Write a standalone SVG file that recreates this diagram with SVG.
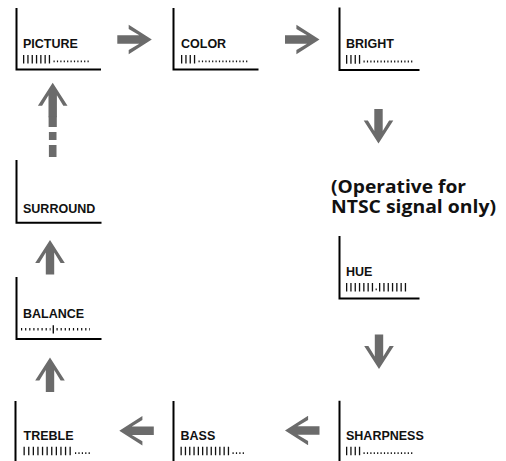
<svg xmlns="http://www.w3.org/2000/svg" xmlns:xlink="http://www.w3.org/1999/xlink" width="506" height="461" viewBox="0 0 506 461">
<style>
.frame{fill:none;stroke:#000;stroke-width:2}
.lbl{font-family:"Liberation Sans",Arial,sans-serif;font-weight:bold;font-size:12.5px;fill:#111}
.tick{stroke:#111;stroke-width:8.6;stroke-dasharray:1.3 3}
.dot{stroke:#111;stroke-width:1.8;stroke-dasharray:1.2 2.2}
.note{font-family:"Open Sans","Noto Sans",sans-serif;font-weight:bold;font-size:17.5px;fill:#111}
.arr{fill:#6b6b6b}
</style>
<defs>
<path id="arrow" d="M0,-4.2 H22 L11.4,-10.6 V-14.8 L34.5,0 L11.4,14.8 V10.6 L22,4.2 H0 Z"/>
</defs>
<rect width="506" height="461" fill="#fff"/>

<g id="picture">
<path class="frame" d="M16.5,8 V69.5 H101"/>
<text class="lbl" x="23" y="47.5">PICTURE</text>
<line class="tick" x1="23" y1="59.2" x2="50.1" y2="59.2"/>
<line class="dot" x1="53.5" y1="61.3" x2="89" y2="61.3"/>
</g>
<g id="color">
<path class="frame" d="M173.5,8 V69.5 H258.5"/>
<text class="lbl" x="181" y="47.5">COLOR</text>
<line class="tick" x1="181" y1="59.2" x2="195.2" y2="59.2"/>
<line class="dot" x1="198.5" y1="61.3" x2="248" y2="61.3"/>
</g>
<g id="bright">
<path class="frame" d="M339.5,7.5 V70 H419.5"/>
<text class="lbl" x="346" y="47.7">BRIGHT</text>
<line class="tick" x1="346" y1="59.4" x2="360.2" y2="59.4"/>
<line class="dot" x1="363.5" y1="61.5" x2="413.5" y2="61.5"/>
</g>
<g id="note">
<text class="note"><tspan x="331" y="192.7" textLength="135" lengthAdjust="spacingAndGlyphs">(Operative for</tspan><tspan x="331" y="212.7" textLength="165" lengthAdjust="spacingAndGlyphs">NTSC signal only)</tspan></text>
</g>
<g id="hue">
<path class="frame" d="M339.5,236 V298.5 H419.5"/>
<text class="lbl" x="346" y="275.7">HUE</text>
<line class="tick" x1="346" y1="287.2" x2="373.1" y2="287.2"/>
<line class="dot" x1="375.6" y1="289.3" x2="376.8" y2="289.3"/>
<line class="tick" x1="379" y1="287.2" x2="406.1" y2="287.2"/>
</g>
<g id="sharpness">
<path class="frame" d="M339.5,400.7 V462.5 H419.5"/>
<text class="lbl" x="346" y="439.5">SHARPNESS</text>
<line class="tick" x1="346" y1="451" x2="360.2" y2="451"/>
<line class="dot" x1="363.5" y1="453.1" x2="413.5" y2="453.1"/>
</g>
<g id="bass">
<path class="frame" d="M173.5,401 V462.5 H258.5"/>
<text class="lbl" x="180.5" y="440">BASS</text>
<line class="tick" x1="180.5" y1="451" x2="229.1" y2="451"/>
<line class="dot" x1="232.5" y1="453.1" x2="244" y2="453.1"/>
</g>
<g id="treble">
<path class="frame" d="M15.5,401 V462.5 H101"/>
<text class="lbl" x="23.5" y="440">TREBLE</text>
<line class="tick" x1="23.5" y1="451" x2="71.3" y2="451" style="stroke-dasharray:1.3 3.3"/>
<line class="dot" x1="75" y1="453.1" x2="89.8" y2="453.1"/>
</g>
<g id="balance">
<path class="frame" d="M16.5,277 V339 H101.5"/>
<text class="lbl" x="23" y="317.7">BALANCE</text>
<line class="dot" x1="21" y1="329.3" x2="50.5" y2="329.3" style="stroke-width:2.6;stroke-dasharray:1.2 2.9"/>
<line x1="53.3" y1="325.3" x2="53.3" y2="333.6" stroke="#111" stroke-width="1.4"/>
<line class="dot" x1="56.5" y1="329.3" x2="90" y2="329.3" style="stroke-width:2.6;stroke-dasharray:1.2 2.9"/>
</g>
<g id="surround">
<path class="frame" d="M16.5,160 V222.7 H101.5"/>
<text class="lbl" x="23" y="212.7">SURROUND</text>
</g>

<g id="connectors" class="arr">
<use xlink:href="#arrow" href="#arrow" transform="translate(117.3,39.5)"/>
<use xlink:href="#arrow" href="#arrow" transform="translate(285,39.5)"/>
<use xlink:href="#arrow" href="#arrow" transform="translate(378.5,109) rotate(90)"/>
<use xlink:href="#arrow" href="#arrow" transform="translate(379,334.5) rotate(90)"/>
<use xlink:href="#arrow" href="#arrow" transform="translate(319.5,430.5) rotate(180)"/>
<use xlink:href="#arrow" href="#arrow" transform="translate(153.8,430.7) rotate(180)"/>
<use xlink:href="#arrow" href="#arrow" transform="translate(50,392) rotate(-90)"/>
<use xlink:href="#arrow" href="#arrow" transform="translate(50,274.5) rotate(-90)"/>
<use xlink:href="#arrow" href="#arrow" transform="translate(52.7,117.2) rotate(-90)"/>
<rect x="48.6" y="116.5" width="8.2" height="10.5"/>
<rect x="48.9" y="132" width="7.6" height="8"/>
<rect x="48.9" y="145" width="7.6" height="12"/>
</g>
</svg>
